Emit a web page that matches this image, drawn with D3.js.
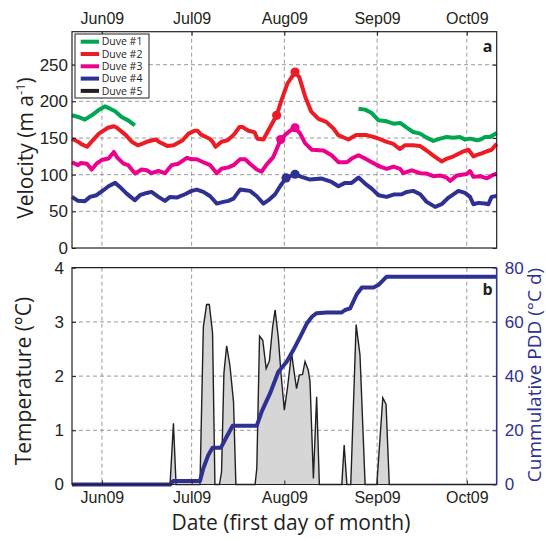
<!DOCTYPE html>
<html>
<head>
<meta charset="utf-8">
<script src="https://cdn.jsdelivr.net/npm/d3@7"></script>
<style>
  body { margin: 0; background: #fff; }
  svg { font-family: "Open Sans", sans-serif; }
  .grid line { stroke: #808080; stroke-width: 0.8; stroke-dasharray: 4,3; }
  .axis text { font-size: 17px; fill: #231f20; }
  .axis line { stroke: #231f20; }
  .axis-month text { font-size: 16px; }
  .axis-pdd text { fill: #2e3192; }
  .axis-pdd line { stroke: #2e3192; }
</style>
</head>
<body>
<svg id="chart" width="546" height="541"></svg>
<script>
// day of year 2009, 142 = May 22
var startDay = 142, endDay = 284;

var duveNames = ["Duve #1", "Duve #2", "Duve #3", "Duve #4", "Duve #5"];
var duveColors = ["#00a651", "#ed1c24", "#ec008c", "#2e3192", "#231f20"];

var duve1 = [[142,181],[144.1,178.7],[146.3,175],[148.6,181],[150.8,187.8],[153,193.2],[154.7,190],[156.4,186.4],[158.6,178.7],[160.8,174.1],[163,167.3],
  [200,null],
  [237.8,190],[240,188.7],[242.2,184.1],[244.5,174.1],[247.2,172.8],[249.5,169.6],[251.7,170.5],[253.9,164.1],[256.1,158.2],[258.4,156],[260.6,150.5],
  [262.8,146],[265.1,149.2],[267.3,151.4],[269.5,150.5],[271.7,151.4],[273.4,147.8],[275.1,149.2],[277.4,146.9],[278.5,147.8],[280.1,151.4],[281.8,151.4],[284,156.9]];

var duve2 = [[142,149],[144,145],[145,142],[147,138],[149,147],[151,156],[154,164],[156,166],[157,164],[160,154],[162,145],[164,140],[166,143],[167,145],
  [170,148],[171,145],[174,139],[176,140],[179,147],[181,156],[183,160],[184,160],[185,155],[188,149],[189,145],[190,138],[192,145],[194,147],[196,154],
  [198,165],[199,165],[201,160],[203,158],[204,149],[206,148],[208,163],[210.4,181],[212,201],[214,224],[216.6,240],[218,233],[220,206],[222,186],
  [224.4,176],[227,172],[229.4,163],[231,154],[234.4,148],[237,154],[240.6,154],[244,150],[247,145],[249.4,142],[251.6,135],[253.3,140],[256,140],
  [258.4,139],[260.6,133],[262.8,126],[265.6,118],[267.4,122],[269.6,125],[272.4,131],[274.6,134],[276.2,125],[277.4,127],[279,129],[280.7,132],
  [282.3,134],[284,142]];

var duve3 = [[142,117],[144,113],[145,116],[147,115],[148.6,107],[150.2,115],[151.9,120],[154.2,122],[156,131],[157,124],[159.2,115],[160.8,113],
  [163.1,101.5],[165.3,107],[167,106],[168.6,102],[170.9,105],[173.1,102],[175.3,113],[177.6,115],[180.4,123],[182,121],[183.7,121],[185.9,117],
  [188.2,113],[190.4,102],[192,108],[194.3,110],[196,113],[198.2,121],[199.9,121],[201.5,115],[203.8,107],[205.4,104],[206.9,113],[209.3,124],
  [211.8,148],[213.2,154],[214.9,160],[216.6,164],[218.3,156],[219.9,143],[222.2,134],[226.1,133],[228.8,126.5],[231.1,117],[233.9,117],[235.5,122],
  [237.8,126.5],[240,122],[242.2,117],[245,111],[247.2,108],[249.5,111],[251.7,108],[252.8,102],[255.6,106],[258.4,102],[260.6,101.5],[262.8,98],
  [265.1,99],[267.3,96],[268.4,91.5],[270.7,99],[274,101],[275.1,105],[276.2,97],[278.5,98],[280.7,95],[282.4,99],[284,101.5]];

var duve4 = [[142,69.7],[144,64.3],[146.3,63.8],[148,69.7],[150.2,72],[152.5,78.8],[154.2,84.2],[156.4,88.8],[158,83.3],[160.3,74.2],[163,65.2],
  [164.7,72],[167,75.1],[168.6,76.5],[170.9,69.7],[173.1,64.3],[174.8,69.7],[177,68.8],[179.8,73.3],[182,77.9],[183.7,79.7],[185.9,76.5],[188.2,70.6],
  [190.4,60.6],[192.6,62.9],[194.3,64.3],[196,67.4],[198.2,79.7],[199.9,78.8],[201.5,77.9],[203.8,70.6],[206,60.6],[207.7,65.2],[209.9,73.3],
  [211.6,84.2],[213.6,95.6],[216.6,100.6],[218.8,97],[221.6,93.3],[225.5,94.7],[228.8,90.1],[231.1,84.2],[233.3,88.8],[235.5,88.8],[237.8,96],
  [240,87.9],[242.2,81],[244.5,72],[247.2,69.7],[249.5,72.9],[252.3,73.3],[253.9,76.5],[256.1,77.9],[258.4,73.3],[260.6,62.9],[263.4,56.1],
  [265.6,59.7],[267.9,68.8],[271.2,77.9],[273.4,75.1],[275.1,69.7],[276.2,59.7],[277.9,61.5],[280.1,60.6],[281.2,59.7],[282.3,69.7],[284,71]];

var duve5 = [];

var marks2 = [[210.4,181],[216.6,240]];
var marks3 = [[211.8,148],[216.6,164]];
var marks4 = [[213.6,95.6],[216.6,100.6]];

var airTemp = [[142,0],[174.8,0],[175.9,1.13],[176.8,0],[184.8,0],[185.9,2.91],[187,3.32],[187.9,3.32],[189,2.79],[189.8,0],[191.3,0],[192,0.23],
  [192.8,2.05],[193.7,2.56],[194.8,2.2],[196,1.53],[196.8,0],[203.2,0],[203.8,0.3],[204.7,2.74],[205.8,2.66],[206.9,2.14],[208,2.28],[209.1,2.91],
  [209.9,3.22],[211,2.7],[211.9,2.02],[213,1.37],[214.1,1.8],[215.4,2.43],[216.2,2.1],[217.1,1.77],[218,2.02],[219.1,2.03],[219.9,2.27],[221,2.11],
  [221.6,1.9],[222.7,0.11],[223.8,1.62],[224.7,0],[232.2,0],[233,0.73],[233.9,0],[235.2,0],[237,2.95],[238.3,2.39],[240,0],[243.9,0],[245.9,1.6],
  [247,1.48],[248.1,0],[284,0]];

var cumPdd = [[142,0],[174.8,0],[175.9,1.3],[184.8,1.3],[185.9,6],[187.6,10.9],[189,13.6],[191.8,13.6],[193.7,17.6],[195.7,21.7],[203.8,21.7],
  [205.4,26.9],[208.2,33.6],[211,41.6],[213.8,45.3],[216,49.6],[218.3,54.5],[220.5,59.4],[222.2,61.9],[223.8,63.2],[227.2,63.5],[232.2,63.5],
  [233.3,64.4],[235,65],[237.2,70.2],[238.9,72.7],[242.8,72.7],[244.4,73.6],[247.2,76.7],[284,76.7]];

var velTicks = [0, 50, 100, 150, 200, 250];
var tempTicks = [0, 1, 2, 3, 4];
var pddTicks = [0, 20, 40, 60, 80];

function dayDate(d){
  return d3.timeHour.offset(new Date(2009, 0, 1), Math.round((d - 1) * 24));
}

var svg = d3.select('#chart');
var left = 72, right = 496.7;
var topA = 31.7, botA = 248, topB = 267.7, botB = 484.5;

var x = d3.scaleTime()
    .domain([dayDate(startDay), dayDate(endDay)])
    .range([left, right]);
var yVel = d3.scaleLinear().domain([0, 295]).range([botA, topA]);
var yTemp = d3.scaleLinear().domain([0, 4]).range([botB, topB]);
var yPdd = d3.scaleLinear().domain([0, 80]).range([botB, topB]);

var months = x.ticks(d3.timeMonth.every(1));
var fmtMonth = d3.timeFormat("%b%y");

// grid
var grid = svg.append("g").attr("class", "grid");
[[topA, botA], [topB, botB]].forEach(function(p){
  grid.selectAll(null).data(months).enter().append("line")
      .attr("x1", function(d){ return x(d); }).attr("x2", function(d){ return x(d); })
      .attr("y1", p[0]).attr("y2", p[1]);
});
grid.selectAll(null).data(velTicks.slice(1)).enter().append("line")
    .attr("x1", left).attr("x2", right)
    .attr("y1", function(d){ return yVel(d); }).attr("y2", function(d){ return yVel(d); });
grid.selectAll(null).data(tempTicks.slice(1, 4)).enter().append("line")
    .attr("x1", left).attr("x2", right)
    .attr("y1", function(d){ return yTemp(d); }).attr("y2", function(d){ return yTemp(d); });

// panel a
var velLine = d3.line()
    .defined(function(d){ return d[1] != null; })
    .x(function(d){ return x(dayDate(d[0])); })
    .y(function(d){ return yVel(d[1]); });

var series = [duve1, duve2, duve3, duve4, duve5];
svg.append("g").selectAll("path")
    .data(series)
    .enter().append("path")
    .attr("d", velLine)
    .attr("fill", "none")
    .attr("stroke", function(d, i){ return duveColors[i]; })
    .attr("stroke-width", 4)
    .attr("stroke-linejoin", "round");

[[marks2, 1], [marks3, 2], [marks4, 3]].forEach(function(m){
  svg.append("g").selectAll("circle")
      .data(m[0])
      .enter().append("circle")
      .attr("cx", function(d){ return x(dayDate(d[0])); })
      .attr("cy", function(d){ return yVel(d[1]); })
      .attr("r", 4.6)
      .attr("fill", duveColors[m[1]]);
});

svg.append("rect")
    .attr("x", left).attr("y", topA)
    .attr("width", right - left).attr("height", botA - topA)
    .attr("fill", "none").attr("stroke", "#231f20").attr("stroke-width", 1.2);

svg.append("g").attr("class", "axis")
    .attr("transform", "translate(" + left + ",0)")
    .call(d3.axisLeft(yVel).tickValues(velTicks).tickSizeInner(-4).tickSizeOuter(0).tickPadding(4))
    .call(function(g){ g.select(".domain").remove(); });
svg.append("g").attr("class", "axis")
    .attr("transform", "translate(" + right + ",0)")
    .call(d3.axisRight(yVel).tickValues(velTicks).tickSizeInner(-4).tickSizeOuter(0).tickFormat(""))
    .call(function(g){ g.select(".domain").remove(); });
svg.append("g").attr("class", "axis axis-month")
    .attr("transform", "translate(0," + topA + ")")
    .call(d3.axisTop(x).tickValues(months).tickFormat(fmtMonth).tickSizeInner(-4).tickSizeOuter(0).tickPadding(7.7))
    .call(function(g){ g.select(".domain").remove(); });

// legend
var legend = svg.append("g");
legend.append("rect")
    .attr("x", 75).attr("y", 34).attr("width", 74).attr("height", 64)
    .attr("fill", "#fff").attr("stroke", "#231f20").attr("stroke-width", 1);
var item = legend.selectAll(".item")
    .data(duveNames)
    .enter().append("g")
    .attr("transform", function(d, i){ return "translate(0," + (41.7 + i * 12.3) + ")"; });
item.append("line")
    .attr("x1", 80.7).attr("x2", 99)
    .attr("stroke", function(d, i){ return duveColors[i]; })
    .attr("stroke-width", 4);
item.append("text")
    .attr("x", 101.7).attr("dy", "0.36em")
    .attr("font-size", 10.5).attr("fill", "#231f20")
    .text(function(d){ return d; });

// panel b
var tempArea = d3.area()
    .x(function(d){ return x(dayDate(d[0])); })
    .y0(yTemp(0))
    .y1(function(d){ return yTemp(d[1]); });
var tempLine = d3.line()
    .x(function(d){ return x(dayDate(d[0])); })
    .y(function(d){ return yTemp(d[1]); });
var pddLine = d3.line()
    .x(function(d){ return x(dayDate(d[0])); })
    .y(function(d){ return yPdd(d[1]); });

svg.append("path").datum(airTemp).attr("d", tempArea).attr("fill", "#d6d6d6");
svg.append("path").datum(airTemp).attr("d", tempLine)
    .attr("fill", "none").attr("stroke", "#231f20").attr("stroke-width", 1.4);
svg.append("path").datum(cumPdd).attr("d", pddLine)
    .attr("fill", "none").attr("stroke", "#2e3192").attr("stroke-width", 4).attr("stroke-linejoin", "round");

svg.append("path")
    .attr("d", "M" + right + "," + topB + "H" + left + "V" + botB + "H" + right)
    .attr("fill", "none").attr("stroke", "#231f20").attr("stroke-width", 1.2);
svg.append("line")
    .attr("x1", right).attr("x2", right).attr("y1", topB).attr("y2", botB)
    .attr("stroke", "#2e3192").attr("stroke-width", 1.6);

svg.append("g").attr("class", "axis")
    .attr("transform", "translate(" + left + ",0)")
    .call(d3.axisLeft(yTemp).tickValues(tempTicks).tickFormat(d3.format("d")).tickSizeInner(-4).tickSizeOuter(0).tickPadding(8))
    .call(function(g){ g.select(".domain").remove(); });
svg.append("g").attr("class", "axis axis-pdd")
    .attr("transform", "translate(" + right + ",0)")
    .call(d3.axisRight(yPdd).tickValues(pddTicks).tickSizeInner(-4).tickSizeOuter(0).tickPadding(8))
    .call(function(g){ g.select(".domain").remove(); });
svg.append("g").attr("class", "axis axis-month")
    .attr("transform", "translate(0," + botB + ")")
    .call(d3.axisBottom(x).tickValues(months).tickFormat(fmtMonth).tickSizeInner(-4).tickSizeOuter(0).tickPadding(7.5))
    .call(function(g){ g.select(".domain").remove(); });

// labels
svg.append("text").attr("x", 492.5).attr("y", 52)
    .attr("text-anchor", "end").attr("font-size", 16).attr("font-weight", "bold").attr("fill", "#231f20").text("a");
svg.append("text").attr("x", 492.5).attr("y", 295)
    .attr("text-anchor", "end").attr("font-size", 16).attr("font-weight", "bold").attr("fill", "#231f20").text("b");

var velTitle = svg.append("text")
    .attr("transform", "translate(33,148) rotate(-90)")
    .attr("text-anchor", "middle").attr("font-size", 21).attr("fill", "#231f20");
velTitle.append("tspan").text("Velocity (m a");
velTitle.append("tspan").attr("dy", -8).attr("font-size", 13).text("-1");
velTitle.append("tspan").attr("dy", 8).text(")");

svg.append("text")
    .attr("transform", "translate(31,381) rotate(-90)")
    .attr("text-anchor", "middle").attr("font-size", 21).attr("fill", "#231f20")
    .text("Temperature (°C)");

svg.append("text")
    .attr("transform", "translate(540.5,375) rotate(-90)")
    .attr("text-anchor", "middle").attr("font-size", 19).attr("fill", "#2e3192")
    .text("Cummulative PDD (°C d)");

svg.append("text")
    .attr("x", 291).attr("y", 530)
    .attr("text-anchor", "middle").attr("font-size", 21).attr("fill", "#231f20")
    .text("Date (first day of month)");
</script>
</body>
</html>
